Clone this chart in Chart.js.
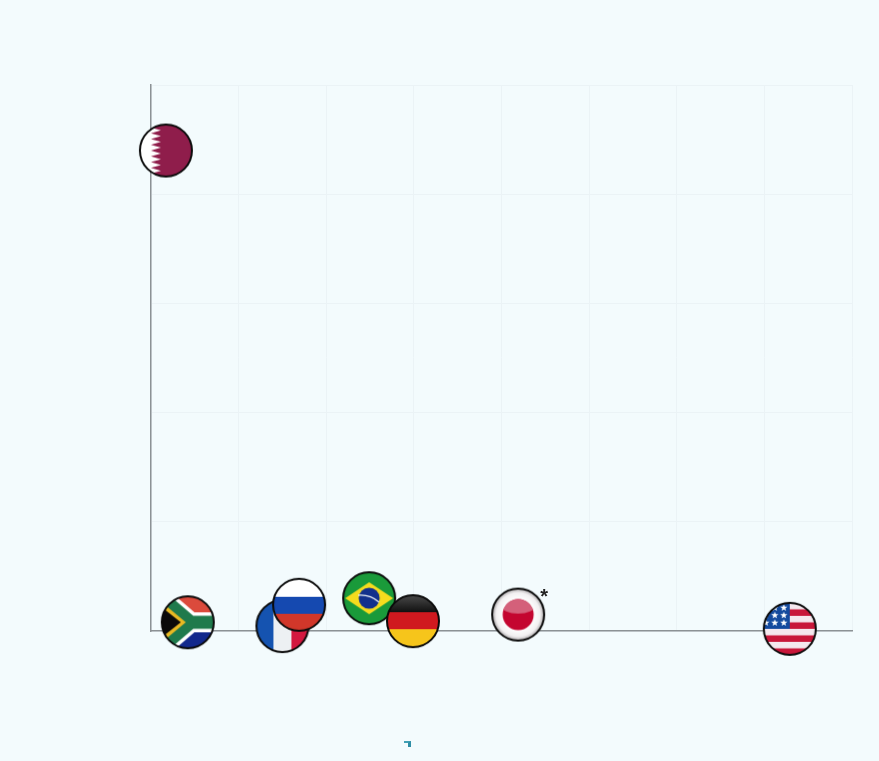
<!DOCTYPE html>
<html>
<head>
<meta charset="utf-8">
<title>Flags chart</title>
<script src="https://cdn.jsdelivr.net/npm/chart.js@4"></script>
<style>
    html, body { margin: 0; padding: 0; background: #f3fbfd; }
    #wrap { position: relative; width: 879px; height: 761px; overflow: hidden; }
    #smudge { position: absolute; left: 404px; top: 741px; width: 4px; height: 4px;
              border-top: 2px solid #3f9fb4; border-right: 3px solid #2f8ea6; }
</style>
</head>
<body>
<div id="wrap">
    <canvas id="flagChart" width="879" height="761"></canvas>
    <div id="smudge"></div>
</div>
<script>
// Values
const countries = ['Qatar', 'South Africa', 'France', 'Russia', 'Brazil', 'Germany', 'Japan', 'USA'];
const xValues = [1.7, 4.2, 15.0, 16.9, 24.9, 29.9, 41.9, 72.9];
const yValues = [44.0, 0.8, 0.45, 2.4, 3.0, 0.9, 1.5, 0.2];
const xTicks = [0, 10, 20, 30, 40, 50, 60, 70, 80];
const yTicks = [0, 10, 20, 30, 40, 50];
const asteriskFor = 'Japan';

const FLAG_SIZE = 56;
const R = 26;

// Each painter draws a flag into the box -R..R, already clipped to the circle
const flagPainters = {
    'Qatar'(c) {
        c.fillStyle = '#ffffff';
        c.fillRect(-R, -R, 2 * R, 2 * R);
        c.fillStyle = '#8f1d4b';
        c.beginPath();
        c.moveTo(R, -R);
        c.lineTo(-5, -R);
        const teeth = 9;
        const h = 2 * R / teeth;
        for (let i = 0; i < teeth; i++) {
            const top = -R + i * h;
            c.lineTo(-15, top + h / 2);
            c.lineTo(-5, top + h);
        }
        c.lineTo(R, R);
        c.closePath();
        c.fill();
    },
    'South Africa'(c) {
        c.fillStyle = '#db4a3c';
        c.fillRect(-R, -R, 2 * R, R);
        c.fillStyle = '#12288c';
        c.fillRect(-R, 0, 2 * R, R);
        // white band
        c.strokeStyle = '#ffffff';
        c.lineWidth = 20;
        c.beginPath();
        c.moveTo(-32, -30);
        c.lineTo(3, 0);
        c.lineTo(R + 2, 0);
        c.moveTo(3, 0);
        c.lineTo(-32, 30);
        c.stroke();
        // green band
        c.strokeStyle = '#1f7a4c';
        c.lineWidth = 13;
        c.stroke();
        // black triangle with yellow edge
        c.fillStyle = '#e8b923';
        c.beginPath();
        c.moveTo(-R, -20);
        c.lineTo(-2, 0);
        c.lineTo(-R, 20);
        c.closePath();
        c.fill();
        c.fillStyle = '#0a0a0a';
        c.beginPath();
        c.moveTo(-R, -15);
        c.lineTo(-7, 0);
        c.lineTo(-R, 15);
        c.closePath();
        c.fill();
    },
    'France'(c) {
        c.fillStyle = '#1553b0';
        c.fillRect(-R, -R, 17, 2 * R);
        c.fillStyle = '#edf0f3';
        c.fillRect(-9, -R, 18, 2 * R);
        c.fillStyle = '#d3173f';
        c.fillRect(9, -R, 18, 2 * R);
    },
    'Russia'(c) {
        c.fillStyle = '#ffffff';
        c.fillRect(-R, -R, 2 * R, 18);
        c.fillStyle = '#1549b0';
        c.fillRect(-R, -8, 2 * R, 17);
        c.fillStyle = '#d1372a';
        c.fillRect(-R, 9, 2 * R, 17);
    },
    'Brazil'(c) {
        c.fillStyle = '#1a9a3a';
        c.fillRect(-R, -R, 2 * R, 2 * R);
        c.fillStyle = '#f5dc1e';
        c.beginPath();
        c.moveTo(-24, 0);
        c.lineTo(0, -16);
        c.lineTo(24, 0);
        c.lineTo(0, 16);
        c.closePath();
        c.fill();
        c.fillStyle = '#12308c';
        c.beginPath();
        c.arc(0, 0, 10.5, 0, Math.PI * 2);
        c.fill();
        c.strokeStyle = '#e8eef5';
        c.lineWidth = 1.4;
        c.beginPath();
        c.moveTo(-11, -3);
        c.quadraticCurveTo(1, -4, 10, 4);
        c.stroke();
    },
    'Germany'(c) {
        const black = c.createLinearGradient(0, -R, 0, -9);
        black.addColorStop(0, '#4a4a4a');
        black.addColorStop(1, '#111111');
        c.fillStyle = black;
        c.fillRect(-R, -R, 2 * R, 17);
        c.fillStyle = '#d0191f';
        c.fillRect(-R, -9, 2 * R, 17);
        c.fillStyle = '#f6c51b';
        c.fillRect(-R, 8, 2 * R, 18);
    },
    'Japan'(c) {
        const bg = c.createRadialGradient(0, 0, 17, 0, 0, R);
        bg.addColorStop(0, '#fbfbfb');
        bg.addColorStop(0.55, '#f2f0f1');
        bg.addColorStop(1, '#a9a6a8');
        c.fillStyle = bg;
        c.fillRect(-R, -R, 2 * R, 2 * R);
        c.fillStyle = '#c4052f';
        c.beginPath();
        c.arc(0, 0, 15.5, 0, Math.PI * 2);
        c.fill();
        c.save();
        c.beginPath();
        c.arc(0, 0, 15.5, 0, Math.PI * 2);
        c.clip();
        c.fillStyle = '#d4607a';
        c.beginPath();
        c.ellipse(0, -9, 17, 8, 0, 0, Math.PI * 2);
        c.fill();
        c.restore();
    },
    'USA'(c) {
        const stripeH = 2 * R / 8;
        for (let i = 0; i < 8; i++) {
            c.fillStyle = i % 2 === 0 ? '#f4e8ee' : '#c8173a';
            c.fillRect(-R, -R + i * stripeH, 2 * R, stripeH + 0.5);
        }
        c.fillStyle = '#134a9e';
        c.fillRect(-R, -R, 26, 26);
        c.fillStyle = '#ffffff';
        for (let row = 0; row < 3; row++) {
            for (let col = 0; col < 3; col++) {
                drawStar(c, -24 + col * 9, -21 + row * 7.5, 3.8);
            }
        }
    }
};

function drawStar(c, cx, cy, r) {
    c.beginPath();
    for (let i = 0; i < 10; i++) {
        const a = -Math.PI / 2 + i * Math.PI / 5;
        const rad = i % 2 === 0 ? r : r * 0.42;
        c.lineTo(cx + rad * Math.cos(a), cy + rad * Math.sin(a));
    }
    c.closePath();
    c.fill();
}

function makeFlag(name) {
    const cv = document.createElement('canvas');
    cv.width = FLAG_SIZE;
    cv.height = FLAG_SIZE;
    const c = cv.getContext('2d');
    c.translate(FLAG_SIZE / 2, FLAG_SIZE / 2);
    c.save();
    c.beginPath();
    c.arc(0, 0, R, 0, Math.PI * 2);
    c.clip();
    flagPainters[name](c);
    c.restore();
    c.strokeStyle = '#0a0a0a';
    c.lineWidth = 2;
    c.beginPath();
    c.arc(0, 0, R, 0, Math.PI * 2);
    c.stroke();
    return cv;
}

// Small asterisk next to the flagged country
const asteriskPlugin = {
    id: 'asterisk',
    afterDatasetsDraw(chart) {
        const i = countries.indexOf(asteriskFor);
        const { x, y } = chart.getDatasetMeta(0).data[i];
        const ctx = chart.ctx;
        ctx.save();
        ctx.fillStyle = '#222222';
        ctx.font = 'bold 20px "Liberation Sans", sans-serif';
        ctx.textAlign = 'center';
        ctx.textBaseline = 'middle';
        ctx.fillText('*', x + 26, y - 17);
        ctx.restore();
    }
};

document.addEventListener('DOMContentLoaded', () => {
    const ctx = document.getElementById('flagChart').getContext('2d');
    new Chart(ctx, {
        type: 'scatter',
        data: {
            labels: countries,
            datasets: [{
                label: 'Countries',
                data: countries.map((name, i) => ({ x: xValues[i], y: yValues[i] })),
                pointStyle: countries.map(makeFlag),
                clip: false
            }]
        },
        options: {
            responsive: false,
            animation: false,
            layout: { padding: { left: 151, top: 85, right: 27, bottom: 130 } },
            plugins: { legend: { display: false }, tooltip: { enabled: false } },
            scales: {
                x: {
                    type: 'linear',
                    min: xTicks[0],
                    max: xTicks[xTicks.length - 1],
                    afterBuildTicks: axis => { axis.ticks = xTicks.map(value => ({ value })); },
                    ticks: { display: false },
                    grid: { color: '#ebf3f6', lineWidth: 1, drawTicks: false },
                    border: { color: '#8c9295', width: 1.5 }
                },
                y: {
                    type: 'linear',
                    min: yTicks[0],
                    max: yTicks[yTicks.length - 1],
                    afterBuildTicks: axis => { axis.ticks = yTicks.map(value => ({ value })); },
                    ticks: { display: false },
                    grid: { color: '#ebf3f6', lineWidth: 1, drawTicks: false },
                    border: { color: '#8c9295', width: 1.5 }
                }
            }
        },
        plugins: [asteriskPlugin]
    });
});
</script>
</body>
</html>
